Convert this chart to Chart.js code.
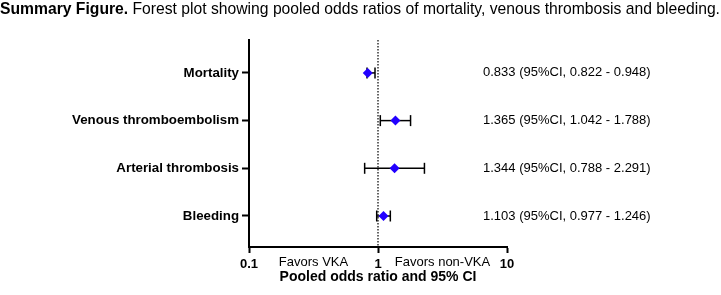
<!DOCTYPE html>
<html>
<head>
<meta charset="utf-8">
<script src="https://cdn.jsdelivr.net/npm/chart.js@4"></script>
<style>
    html, body { margin: 0; padding: 0; background: #fff; }
    #wrap { position: relative; width: 721px; height: 295px; }
    #title {
        position: absolute; left: 0; top: 0; white-space: nowrap;
        font: 15.7px "Liberation Sans", Arial, sans-serif; color: #000;
    }
    #title b { font-weight: bold; }
</style>
</head>
<body>
<div id="wrap">
    <canvas id="forestChart" width="721" height="295"></canvas>
    <div id="title"><b>Summary Figure.</b> Forest plot showing pooled odds ratios of mortality, venous thrombosis and bleeding.</div>
</div>
<script>
    // Data
    const outcomes = ['Mortality', 'Venous thromboembolism', 'Arterial thrombosis', 'Bleeding'];
    const oddsRatios = [0.833, 1.365, 1.344, 1.103];
    const ciLower = [0.822, 1.042, 0.788, 0.977];
    const ciUpper = [0.948, 1.788, 2.291, 1.246];
    const xTicks = [0.1, 1, 10];
    const favorLabels = ['Favors VKA', 'Favors non-VKA'];

    const FONT = '"Liberation Sans", Arial, sans-serif';

    // one line dataset per CI, with vertical caps
    const ciDatasets = outcomes.map((name, i) => ({
        type: 'scatter',
        label: name + ' CI',
        order: 1,
        data: [{ x: ciLower[i], y: i + 1 }, { x: ciUpper[i], y: i + 1 }],
        showLine: true,
        borderColor: '#000',
        borderWidth: 1.5,
        pointStyle: 'line',
        rotation: 90,
        pointRadius: 5.5,
        pointBorderWidth: 1.5,
        pointBorderColor: '#000'
    }));

    const pointDataset = {
        type: 'scatter',
        label: 'Pooled OR',
        order: 0,
        data: oddsRatios.map((v, i) => ({ x: v, y: i + 1 })),
        pointStyle: 'rectRot',
        pointRadius: 5,
        pointBackgroundColor: '#2200ff',
        pointBorderColor: '#2200ff',
        pointBorderWidth: 0
    };

    // reference line, text annotations, favours labels
    const forestExtras = {
        id: 'forestExtras',
        beforeDatasetsDraw(chart) {
            const { ctx, chartArea, scales: { x } } = chart;
            const px = x.getPixelForValue(1);
            ctx.save();
            ctx.strokeStyle = '#333';
            ctx.lineWidth = 1.5;
            ctx.setLineDash([1.5, 1.5]);
            ctx.beginPath();
            ctx.moveTo(px, chartArea.top);
            ctx.lineTo(px, chartArea.bottom);
            ctx.stroke();
            ctx.restore();
        },
        afterDraw(chart) {
            const { ctx, chartArea, scales: { x, y } } = chart;
            ctx.save();
            ctx.fillStyle = '#000';
            ctx.font = '13px ' + FONT;
            ctx.textBaseline = 'middle';
            ctx.textAlign = 'left';
            outcomes.forEach((name, i) => {
                const txt = `${oddsRatios[i].toFixed(3)} (95%CI, ${ciLower[i].toFixed(3)} - ${ciUpper[i].toFixed(3)})`;
                ctx.fillText(txt, chartArea.right - 24, y.getPixelForValue(i + 1));
            });
            ctx.textAlign = 'center';
            const fy = chartArea.bottom + 15;
            ctx.fillText(favorLabels[0], x.getPixelForValue(Math.sqrt(xTicks[0] * xTicks[1])), fy);
            ctx.fillText(favorLabels[1], x.getPixelForValue(Math.sqrt(xTicks[1] * xTicks[2])), fy);
            ctx.restore();
        }
    };

    const ctx = document.getElementById('forestChart').getContext('2d');
    new Chart(ctx, {
        type: 'scatter',
        data: { datasets: [...ciDatasets, pointDataset] },
        options: {
            responsive: false,
            animation: false,
            layout: { padding: { top: 40, right: 214, left: 0, bottom: 0 } },
            plugins: {
                legend: { display: false },
                tooltip: { enabled: false }
            },
            scales: {
                x: {
                    type: 'logarithmic',
                    min: 0.1,
                    max: 10,
                    afterBuildTicks: s => { s.ticks = xTicks.map(v => ({ value: v })); },
                    afterFit: s => { s.height = 48; },
                    ticks: {
                        color: '#000',
                        font: { family: FONT, size: 13, weight: 'bold' },
                        padding: 4,
                        maxRotation: 0,
                        callback: v => String(v)
                    },
                    grid: { drawOnChartArea: false, drawTicks: true, tickLength: 6, tickColor: '#000', tickWidth: 2 },
                    border: { display: true, color: '#000', width: 2 },
                    title: {
                        display: true,
                        text: 'Pooled odds ratio and 95% CI',
                        color: '#000',
                        font: { family: FONT, size: 14, weight: 'bold' },
                        padding: { top: 0, bottom: 9 }
                    }
                },
                y: {
                    type: 'linear',
                    reverse: true,
                    min: 0.31,
                    max: 4.65,
                    afterBuildTicks: s => { s.ticks = outcomes.map((o, i) => ({ value: i + 1 })); },
                    afterFit: s => { s.width = 249; },
                    ticks: {
                        color: '#000',
                        font: { family: FONT, size: 13.3, weight: 'bold' },
                        padding: 3,
                        callback: v => outcomes[v - 1]
                    },
                    grid: { drawOnChartArea: false, drawTicks: true, tickLength: 7, tickColor: '#000', tickWidth: 2 },
                    border: { display: true, color: '#000', width: 2 }
                }
            }
        },
        plugins: [forestExtras]
    });
</script>
</body>
</html>
